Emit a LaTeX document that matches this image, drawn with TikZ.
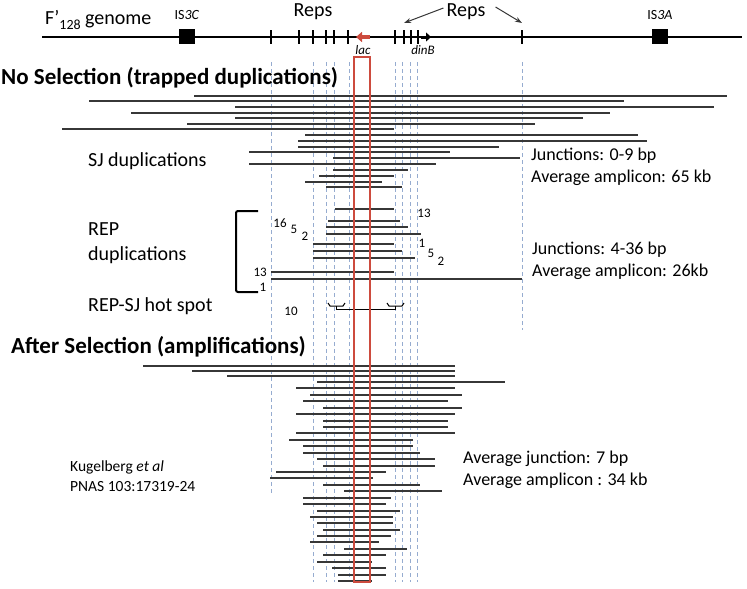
\documentclass[tikz,border=0pt]{standalone}
\usepackage{fontspec}
\setmainfont{Carlito}
\usetikzlibrary{arrows.meta,positioning}

\definecolor{guideblue}{RGB}{150,172,208}
\definecolor{lacred}{RGB}{205,75,62}
\definecolor{seggray}{RGB}{55,55,55}

\tikzset{
  hdr/.style={anchor=west, inner sep=0pt, font=\fontsize{23}{27}\bfseries\selectfont},
  lbl/.style={inner sep=0pt, font=\fontsize{20}{25}\selectfont},
  info/.style={anchor=west, inner sep=0pt, align=left, font=\fontsize{18}{22}\selectfont},
  num/.style={inner sep=0pt, font=\fontsize{13}{15}\selectfont},
  seg/.style={seggray, line width=1.5pt},
  guide/.style={guideblue, line width=0.9pt, dash pattern=on 4pt off 3pt},
  isbox/.style={fill=black, minimum width=16pt, minimum height=15pt, inner sep=0pt},
}

\begin{document}
\begin{tikzpicture}[x=1pt, y=-1pt]
\useasboundingbox (0,0) rectangle (747,589);

% genome map
\draw[line width=2pt] (42,37) -- (742,37);
\foreach \x in {271,299,313,326,334,348,395,404,411,418,522}
  \draw[line width=1.8pt] (\x,30) -- (\x,44);
\node[isbox] (is3c) at (187,36) {};
\node[isbox] (is3a) at (660,36) {};
\node[num, font=\fontsize{14}{16}\selectfont, above=9pt of is3c] (is3clbl) {IS\textit{3C}};
\node[num, font=\fontsize{14}{16}\selectfont, above=9pt of is3a] (is3albl) {IS\textit{3A}};
\node[lbl, anchor=west] (genome) at (45,20) {F’\raisebox{-0.45ex}{\fontsize{14}{14}\selectfont 128} genome};
\draw[lacred, line width=4pt, -{Triangle[length=6pt,width=10pt]}] (370,37) -- (356,37);
\draw[line width=3pt, -{Triangle[length=5pt,width=9pt]}] (421,37) -- (431,37);
\node[num, font=\fontsize{13}{15}\itshape\selectfont] (lac) at (363,50) {lac};
\node[num, font=\fontsize{13}{15}\itshape\selectfont] (dinb) at (423,50) {dinB};
\node[lbl] (reps1) at (313,12) {Reps};
\node[lbl] (reps2) at (466,12) {Reps};
\coordinate (repA) at (404,23);
\coordinate (repB) at (522,23);
\draw[-{Stealth[length=7pt,width=5pt]}, seggray, line width=1pt] ([xshift=-3pt,yshift=4pt]reps2.west) -- (repA);
\draw[-{Stealth[length=7pt,width=5pt]}, seggray, line width=1pt] ([xshift=10pt,yshift=5pt]reps2.east) -- (repB);

% guide lines
\foreach \x in {313,326,334,349,395,402,410,417}
  \draw[guide] (\x,62) -- (\x,582);
\draw[guide] (271,62) -- (271,493);
\draw[guide] (522,62) -- (522,330);

% no selection
\node[hdr] (nosel) at (1,78) {No Selection (trapped duplications)};
\foreach \y/\a/\b in {96/194/727, 101/89/624, 107/235/714, 113/131/610, 118/235/583,
    124/187/535, 129/62/394, 135/305/638, 141/298/647, 147/298/499, 152/249/450,
    158/333/520, 164/249/436, 170/333/408, 176/319/394, 182/305/382, 187/326/402}
  \draw[seg] (\a,\y) -- (\b,\y);
\node[lbl, anchor=west] (sjdup) at (88,161) {SJ duplications};
\node[info] (sjinfo) at (531,167) {Junctions: 0-9 bp\\Average amplicon: 65 kb};

% REP duplications
\foreach \y/\a/\b in {209/335/394, 221/328/400, 227/326/408, 234/326/421, 244/313/394,
    251/313/402, 258/313/415, 272/271/394, 279/271/522}
  \draw[seg] (\a,\y) -- (\b,\y);
\draw[line width=2pt, rounded corners=2pt] (258,211) -- (236,211) -- (236,292) -- (258,292);
\node[lbl, anchor=west, align=left] (repdup) at (88,243) {REP\\duplications};
\node[num] (n13a) at (424,213) {13};
\node[num] (n16) at (280,223) {16};
\node[num] (n5a) at (294,229) {5};
\node[num] (n2a) at (305,236) {2};
\node[num] (n1a) at (422,243) {1};
\node[num] (n5b) at (431,253) {5};
\node[num] (n2b) at (441,261) {2};
\node[num, anchor=east] (n13b) at (267,272) {13};
\node[num] (n1b) at (263,287) {1};
\node[info] (repinfo) at (532,261) {Junctions: 4-36 bp\\Average amplicon: 26kb};

% hot spot
\node[lbl, anchor=west] (hotspot) at (88,306) {REP-SJ hot spot};
\node[num] (n10) at (291,311) {10};
\draw[line width=1pt] (328,303) -- (330,306) -- (343,306) -- (345,303);
\draw[line width=1pt] (387,303) -- (389,306) -- (402,306) -- (404,303);
\draw[line width=1pt] (336,306) -- (336,309) -- (395,309) -- (395,306);

% after selection
\node[hdr] (aftsel) at (11,347) {After Selection (amplifications)};
\foreach \y/\a/\b in {366/143/455, 371/192/455, 376/227/455, 382/317/505, 388/296/455,
    395/310/462, 401/303/448, 408/323/462, 414/296/455, 421/323/448, 427/323/448,
    433/296/455, 440/289/413, 446/303/413, 453/303/420, 459/317/435, 466/323/435,
    472/276/386, 478/270/373, 485/323/420, 491/344/442, 498/303/391, 504/303/386,
    511/317/400, 517/310/393, 523/317/393, 530/323/400, 536/317/391, 542/310/379,
    549/344/407, 555/323/386, 562/317/372, 568/332/386, 575/338/386, 581/338/372}
  \draw[seg] (\a,\y) -- (\b,\y);
\node[info] (ampinfo) at (463,470) {Average junction: 7 bp\\Average amplicon : 34 kb};
\node[info, font=\fontsize{15.5}{20}\selectfont] (cite) at (70,476) {Kugelberg \textit{et al}\\PNAS 103:17319-24};

% lac window
\draw[lacred, line width=1.3pt] (354,57) rectangle (370,582);
\end{tikzpicture}
\end{document}
